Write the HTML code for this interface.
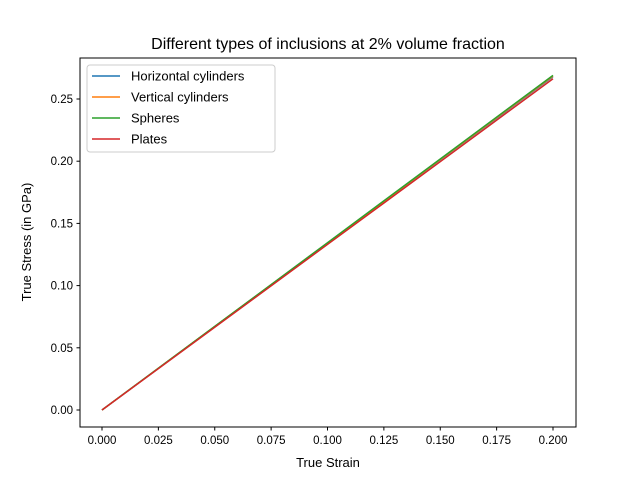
<!DOCTYPE html>
<html><head><meta charset="utf-8"><style>body{margin:0;background:#fff}svg{display:block;font-family:"Liberation Sans","DejaVu Sans",sans-serif}</style></head>
<body>
<svg id="chart" width="640" height="480">
<rect width="640" height="480" fill="#fff"/>
<text x="328" y="49" text-anchor="middle" font-size="16">Different types of inclusions at 2% volume fraction</text>
<g id="plot"></g>
<rect x="80" y="58" width="496" height="369" fill="none" stroke="#000" stroke-width="1"/>
<text x="328" y="467" text-anchor="middle" font-size="13">True Strain</text>
<text transform="translate(31,242) rotate(-90)" text-anchor="middle" font-size="13">True Stress (in GPa)</text>
<g id="legend"></g>
</svg>
<script>
const xTicks=[0,0.025,0.05,0.075,0.1,0.125,0.15,0.175,0.2];
const xTickLabels=["0.000","0.025","0.050","0.075","0.100","0.125","0.150","0.175","0.200"];
const yTicks=[0,0.05,0.1,0.15,0.2,0.25];
const yTickLabels=["0.00","0.05","0.10","0.15","0.20","0.25"];
const strain=[0,0.05,0.1,0.15,0.2];
const horizontal=[0,0.067,0.134,0.201,0.268];
const vertical=[0,0.0671,0.1342,0.2013,0.2685];
const spheres=[0,0.0672,0.1345,0.2018,0.269];
const plates=[0,0.0665,0.1331,0.1996,0.2663];
const seriesNames=["Horizontal cylinders","Vertical cylinders","Spheres","Plates"];
const seriesColors=["#1f77b4","#ff7f0e","#2ca02c","#d62728"];
const seriesData=[horizontal,vertical,spheres,plates];
const NS="http://www.w3.org/2000/svg";
const X=v=>102+v*(553-102)/0.2;
const Y=v=>410-v*(410-99)/0.25;
const svg=document.getElementById('chart');
const plot=document.getElementById('plot');
function mk(t,a,p){const e=document.createElementNS(NS,t);for(const k in a)e.setAttribute(k,a[k]);(p||svg).appendChild(e);return e;}
xTicks.forEach((t,i)=>{
 const l=mk('line',{x1:X(t),x2:X(t),y1:427,y2:430.5,stroke:'#000'});
 
 
 const tx=mk('text',{x:X(t),y:444,'text-anchor':'middle','font-size':'11.5'});tx.textContent=xTickLabels[i];
 
 
});
yTicks.forEach((t,i)=>{
 const l=mk('line',{x1:76.5,x2:80,y1:Y(t),y2:Y(t),stroke:'#000'});
 
 
 const tx=mk('text',{x:73,y:Y(t)+4,'text-anchor':'end','font-size':'11.5'});tx.textContent=yTickLabels[i];
 
 
});
seriesData.forEach((d,s)=>{
 const p=mk('polyline',{points:strain.map((x,i)=>X(x)+','+Y(d[i])).join(' '),fill:'none',stroke:seriesColors[s],'stroke-width':1.5},plot);
 
 
});
const lg=document.getElementById('legend');
const box=mk('rect',{x:87,y:65,width:188,height:87,rx:3,fill:'#fff','fill-opacity':0.8,stroke:'#ccc'},lg);


seriesNames.forEach((n,i)=>{
 const y=76+i*21;
 const l=mk('line',{x1:92,x2:120,y1:y,y2:y,stroke:seriesColors[i],'stroke-width':1.5},lg);
 
 
 const t=mk('text',{x:131,y:y+4.5,'font-size':'13'},lg);t.textContent=n;
 
 
});
</script>
</body></html>
